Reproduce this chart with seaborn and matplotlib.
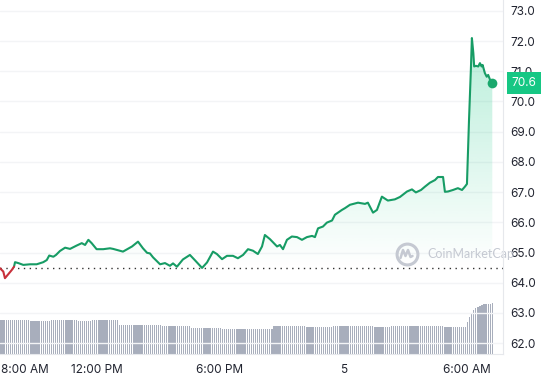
import numpy as np
import pandas as pd
import matplotlib
matplotlib.use("Agg")
import matplotlib.pyplot as plt
import matplotlib.transforms as mtransforms
import seaborn as sns

# price (hours since midnight of day 4)
hours = [7.32, 7.48, 7.56, 7.72, 7.89, 8.00, 8.05, 8.21, 8.45, 8.78,
         9.10, 9.42, 9.59, 9.71, 9.91, 10.04, 10.23, 10.48, 10.72, 11.04,
         11.29, 11.45, 11.61, 11.77, 12.01, 12.33, 12.66, 12.81, 13.29, 13.73,
         14.02, 14.26, 14.46, 14.60, 14.75, 15.09, 15.33, 15.57, 15.72, 15.91,
         16.20, 16.54, 16.79, 17.13, 17.37, 17.66, 17.85, 18.10, 18.34, 18.63,
         18.87, 19.12, 19.36, 19.60, 19.84, 20.04, 20.18, 20.43, 20.77, 20.91,
         21.06, 21.25, 21.49, 21.74, 21.98, 22.22, 22.47, 22.61, 22.76, 23.00,
         23.19, 23.44, 23.58, 23.92, 24.07, 24.31, 24.70, 25.04, 25.18, 25.43,
         25.62, 25.86, 26.15, 26.49, 26.74, 27.08, 27.32, 27.51, 27.76, 27.95,
         28.19, 28.44, 28.58, 28.83, 28.92, 29.07, 29.31, 29.55, 29.75, 29.89,
         29.99, 30.09, 30.18, 30.23, 30.30, 30.34, 30.43, 30.54, 30.62, 30.70,
         30.75, 30.86, 30.95, 31.02, 31.11, 31.22]
price = [64.48, 64.37, 64.15, 64.28, 64.42, 64.53, 64.68, 64.65, 64.59, 64.61,
         64.61, 64.68, 64.75, 64.90, 64.86, 64.92, 65.05, 65.16, 65.12, 65.23,
         65.31, 65.25, 65.42, 65.31, 65.11, 65.11, 65.14, 65.12, 65.03, 65.20,
         65.36, 65.14, 64.99, 64.97, 64.84, 64.61, 64.65, 64.56, 64.64, 64.53,
         64.77, 64.92, 64.74, 64.49, 64.67, 65.03, 64.95, 64.78, 64.89, 64.89,
         64.81, 64.92, 65.11, 65.06, 64.95, 65.20, 65.58, 65.44, 65.20, 65.25,
         65.11, 65.42, 65.53, 65.51, 65.42, 65.51, 65.55, 65.51, 65.80, 65.86,
         65.99, 66.06, 66.25, 66.41, 66.47, 66.58, 66.65, 66.61, 66.65, 66.32,
         66.41, 66.85, 66.72, 66.76, 66.84, 67.02, 67.09, 66.99, 67.07, 67.18,
         67.31, 67.40, 67.50, 67.50, 67.01, 67.02, 67.07, 67.13, 67.07, 67.18,
         67.27, 69.39, 71.05, 72.10, 71.60, 71.16, 71.18, 71.16, 71.27, 71.16,
         71.21, 70.94, 70.82, 70.88, 70.72, 70.61]
open_price = 64.49

# volume bars, one every 6 minutes from the first price point
vol_start = 7.32
vol_step = 0.1
volume = [3.45, 3.40, 3.45, 3.45, 3.40, 3.45, 3.45, 3.45, 3.40, 3.45,
          3.45, 3.45, 3.45, 3.40, 3.45, 3.30, 3.30, 3.30, 3.30, 3.30,
          3.30, 3.30, 3.30, 3.30, 3.30, 3.45, 3.45, 3.45, 3.45, 3.45,
          3.45, 3.45, 3.45, 3.45, 3.45, 3.45, 3.45, 3.45, 3.30, 3.30,
          3.30, 3.30, 3.30, 3.30, 3.30, 3.45, 3.45, 3.45, 3.45, 3.45,
          3.45, 3.45, 3.45, 3.45, 3.45, 3.45, 3.45, 3.45, 2.95, 2.95,
          2.95, 2.95, 2.95, 2.95, 2.90, 2.95, 2.95, 2.95, 2.95, 2.95,
          2.95, 2.95, 2.90, 2.95, 2.95, 2.95, 2.95, 2.95, 2.95, 2.85,
          2.85, 2.85, 2.85, 2.85, 2.85, 2.85, 2.85, 2.85, 2.85, 2.85,
          2.85, 2.85, 2.85, 2.60, 2.60, 2.60, 2.60, 2.60, 2.60, 2.60,
          2.60, 2.60, 2.60, 2.60, 2.60, 2.60, 2.60, 2.60, 2.50, 2.50,
          2.50, 2.50, 2.55, 2.50, 2.50, 2.50, 2.50, 2.50, 2.50, 2.50,
          2.50, 2.50, 2.50, 2.55, 2.50, 2.50, 2.50, 2.50, 2.50, 2.50,
          2.50, 2.50, 2.50, 2.80, 2.80, 2.80, 2.80, 2.80, 2.80, 2.80,
          2.80, 2.80, 2.80, 2.80, 2.80, 2.80, 2.80, 2.80, 2.80, 2.70,
          2.70, 2.70, 2.70, 2.70, 2.70, 2.70, 2.70, 2.70, 2.70, 2.70,
          2.70, 2.70, 2.80, 2.80, 2.80, 2.80, 2.80, 2.80, 2.80, 2.80,
          2.80, 2.80, 2.80, 2.80, 2.80, 2.80, 2.80, 2.80, 2.80, 2.80,
          2.80, 2.80, 2.70, 2.70, 2.70, 2.70, 2.70, 2.70, 2.70, 2.70,
          2.80, 2.80, 2.80, 2.80, 2.80, 2.80, 2.80, 2.80, 2.80, 2.80,
          2.80, 2.80, 2.80, 2.80, 2.80, 2.80, 2.80, 2.80, 2.80, 2.80,
          2.80, 2.80, 2.80, 2.80, 2.80, 2.80, 2.70, 2.70, 2.70, 2.70,
          2.70, 2.70, 2.70, 2.70, 2.70, 2.70, 2.70, 3.20, 3.70, 4.10,
          4.40, 4.60, 4.75, 4.85, 4.95, 5.00, 5.05, 5.05, 5.05, 5.10]

tick_hours = [8, 12, 18, 24, 30]
tick_labels = ["8:00 AM", "12:00 PM", "6:00 PM", "5", "6:00 AM"]
price_ticks = [62.0, 63.0, 64.0, 65.0, 66.0, 67.0, 68.0, 69.0, 70.0, 71.0, 72.0, 73.0]

green = "#16c784"
line_green = "#179c65"
red = "#c8313b"
grey_txt = "#222531"

sns.set_style("white")
plt.rcParams["font.family"] = ["Inter", "DejaVu Sans"]

fig = plt.figure(figsize=(5.45, 3.8), dpi=100)
ax = fig.add_axes([0, 26 / 380, 503 / 545, 354 / 380])
ax_vol = ax.twinx()
ax.set_zorder(ax_vol.get_zorder() + 1)
ax.patch.set_visible(False)

# volume
vol_hours = vol_start + vol_step * np.arange(len(volume))
ax_vol.bar(vol_hours, volume, width=0.062, color="#a8aebc", linewidth=0)
ax_vol.set_ylim(0, 35.4)
ax_vol.set_yticks([])
for s in ax_vol.spines.values():
    s.set_visible(False)

df = pd.DataFrame({"hour": hours, "price": price})

# gradient area under the line
top = max(price)
grad_y = np.linspace(61.64, top, 300)
alpha = np.clip((grad_y - open_price) / (top - open_price), 0, 1) * 0.30
rgba = np.zeros((300, 1, 4))
rgba[:, 0, :3] = matplotlib.colors.to_rgb(green)
rgba[:, 0, 3] = alpha
poly = ax.fill_between(hours, price, 61.64, color="none", linewidth=0)
img = ax.imshow(rgba, extent=[hours[0], hours[-1], 61.64, top], origin="lower",
                aspect="auto", zorder=1, interpolation="bilinear")
img.set_clip_path(poly.get_paths()[0], transform=ax.transData)

sns.lineplot(data=df.iloc[5:], x="hour", y="price", ax=ax, color=line_green, linewidth=1.5, zorder=4)
sns.lineplot(data=df.iloc[:6], x="hour", y="price", ax=ax, color=red, linewidth=1.5, zorder=4)
ax.plot([hours[-1]], [price[-1]], "o", ms=7, color="#1aa86d", mew=0, zorder=5)

ax.axhline(open_price, color="#333333", lw=1, ls=(0, (1, 3.2)), zorder=3)

ax.set_xlim(7.32, 31.74)
ax.set_ylim(61.64, 73.36)
ax.set_xlabel("")
ax.set_ylabel("")

ax.yaxis.tick_right()
ax.set_yticks(price_ticks, [f"{v:.1f}" for v in price_ticks])
# first time label is pushed right so it starts at the left edge
ax.set_xticks(tick_hours, [""] + tick_labels[1:])
ax.annotate(tick_labels[0], xy=(0, 0), xycoords="axes fraction",
            xytext=(1, -7), textcoords="offset points", ha="left", va="top",
            fontsize=8.5, color=grey_txt, annotation_clip=False)
ax.grid(axis="y", color="#f3f4f6", lw=1)
ax.grid(axis="x", visible=False)
ax.tick_params(axis="y", length=0, pad=5, labelsize=8.5, labelcolor=grey_txt)
ax.tick_params(axis="x", length=4, width=0.8, color="#e6e8ec", pad=3, labelsize=8.5, labelcolor=grey_txt)

for side in ["left", "top"]:
    ax.spines[side].set_visible(False)
for side in ["right", "bottom"]:
    ax.spines[side].set_color("#e6e8ec")
    ax.spines[side].set_linewidth(0.8)

# current price tag
blend = mtransforms.blended_transform_factory(ax.transAxes, ax.transData)
ax.annotate(f"{price[-1]:.1f}", xy=(1.0, price[-1]), xycoords=blend, xytext=(6, 0),
            textcoords="offset points", ha="left", va="center", color="white",
            fontsize=8.5, annotation_clip=False, zorder=10,
            bbox=dict(boxstyle="square,pad=0.4", fc=green, ec="none"))

# watermark
wm = "#c5c9d2"
ax.text(0.849, 0.2825, "CoinMarketCap", transform=ax.transAxes, ha="left", va="center",
        fontsize=9, color=wm, zorder=2, clip_on=False, family=["Lato", "DejaVu Sans"])
ax.plot([406.5 / 503], [0.2825], transform=ax.transAxes, marker="o", ms=15, mfc="none",
        mec=wm, mew=2.2, zorder=2, clip_on=False)
wave_dx = [-6, -3.5, -1, 1.5, 4, 6]
wave_dy = [-4, 4, -2, 4, -3, -2]
ax.plot([406.5 / 503 + d / 503 for d in wave_dx], [0.2825 + d / 354 for d in wave_dy],
        transform=ax.transAxes, color=wm, lw=1.8, zorder=2, clip_on=False)

fig.savefig("out.png", dpi=100, facecolor="white")
